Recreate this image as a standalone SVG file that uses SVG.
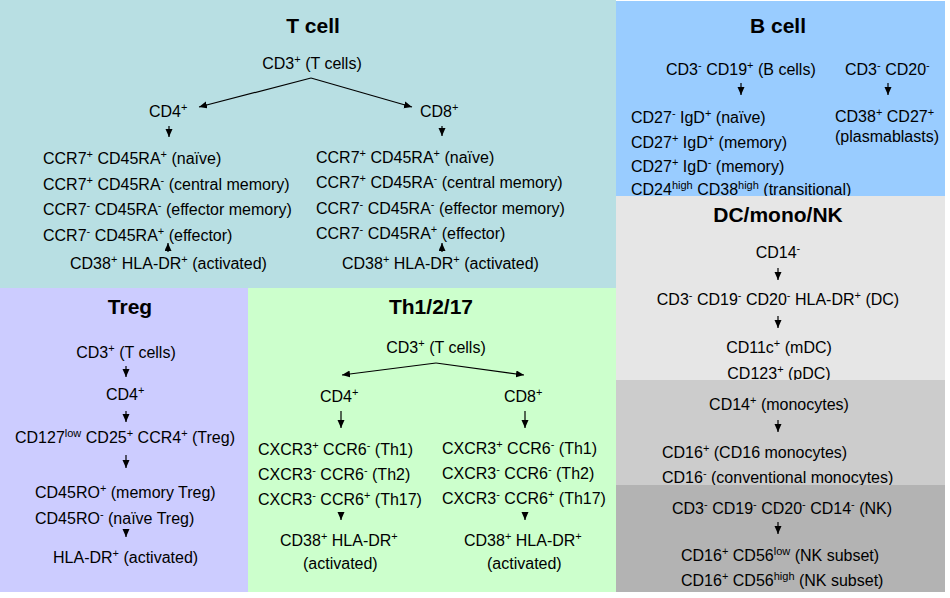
<svg xmlns="http://www.w3.org/2000/svg" width="950" height="598" viewBox="0 0 950 598">
<style>
text{font-family:"Liberation Sans",Arial,sans-serif;font-size:16px;fill:#000}
.h{font-weight:bold;font-size:21px}
.s{font-size:11px}
.c{text-anchor:middle}
.ln{stroke:#000;stroke-width:1.2;fill:none;marker-end:url(#ah)}
</style>
<defs>
<marker id="ah" markerUnits="userSpaceOnUse" markerWidth="9" markerHeight="8" refX="8" refY="3.5" orient="auto">
<path d="M0,0 L8,3.5 L0,7 z" fill="#000"/>
</marker>
</defs>
<rect width="950" height="598" fill="#fff"/>
<g id="tcell">
<rect x="0" y="0" width="616" height="288" fill="#b8dfe3"/>
<text class="h c" x="313" y="33">T cell</text>
<text class="c" x="312" y="69">CD3<tspan class="s" dy="-6">+</tspan><tspan dy="6"> (T cells)</tspan></text>
<text x="149" y="117">CD4<tspan class="s" dy="-6">+</tspan></text>
<text x="420" y="117">CD8<tspan class="s" dy="-6">+</tspan></text>
<text x="43" y="164">CCR7<tspan class="s" dy="-6">+</tspan><tspan dy="6"> CD45RA</tspan><tspan class="s" dy="-6">+</tspan><tspan dy="6"> (naïve)</tspan></text>
<text x="43" y="190">CCR7<tspan class="s" dy="-6">+</tspan><tspan dy="6"> CD45RA</tspan><tspan class="s" dy="-6">-</tspan><tspan dy="6"> (central memory)</tspan></text>
<text x="43" y="215">CCR7<tspan class="s" dy="-6">-</tspan><tspan dy="6"> CD45RA</tspan><tspan class="s" dy="-6">-</tspan><tspan dy="6"> (effector memory)</tspan></text>
<text x="43" y="241">CCR7<tspan class="s" dy="-6">-</tspan><tspan dy="6"> CD45RA</tspan><tspan class="s" dy="-6">+</tspan><tspan dy="6"> (effector)</tspan></text>
<text x="70" y="269">CD38<tspan class="s" dy="-6">+</tspan><tspan dy="6"> HLA-DR</tspan><tspan class="s" dy="-6">+</tspan><tspan dy="6"> (activated)</tspan></text>
<text x="316" y="163">CCR7<tspan class="s" dy="-6">+</tspan><tspan dy="6"> CD45RA</tspan><tspan class="s" dy="-6">+</tspan><tspan dy="6"> (naïve)</tspan></text>
<text x="316" y="188">CCR7<tspan class="s" dy="-6">+</tspan><tspan dy="6"> CD45RA</tspan><tspan class="s" dy="-6">-</tspan><tspan dy="6"> (central memory)</tspan></text>
<text x="316" y="214">CCR7<tspan class="s" dy="-6">-</tspan><tspan dy="6"> CD45RA</tspan><tspan class="s" dy="-6">-</tspan><tspan dy="6"> (effector memory)</tspan></text>
<text x="316" y="239">CCR7<tspan class="s" dy="-6">-</tspan><tspan dy="6"> CD45RA</tspan><tspan class="s" dy="-6">+</tspan><tspan dy="6"> (effector)</tspan></text>
<text x="342" y="269">CD38<tspan class="s" dy="-6">+</tspan><tspan dy="6"> HLA-DR</tspan><tspan class="s" dy="-6">+</tspan><tspan dy="6"> (activated)</tspan></text>
</g>
<g id="bcell">
<rect x="616" y="1" width="329" height="195" fill="#99ccff"/>
<text class="h c" x="778" y="33">B cell</text>
<text x="666" y="75">CD3<tspan class="s" dy="-6">-</tspan><tspan dy="6"> CD19</tspan><tspan class="s" dy="-6">+</tspan><tspan dy="6"> (B cells)</tspan></text>
<text x="845" y="75">CD3<tspan class="s" dy="-6">-</tspan><tspan dy="6"> CD20</tspan><tspan class="s" dy="-6">-</tspan></text>
<text x="631" y="123">CD27<tspan class="s" dy="-6">-</tspan><tspan dy="6"> IgD</tspan><tspan class="s" dy="-6">+</tspan><tspan dy="6"> (naïve)</tspan></text>
<text x="631" y="148">CD27<tspan class="s" dy="-6">+</tspan><tspan dy="6"> IgD</tspan><tspan class="s" dy="-6">+</tspan><tspan dy="6"> (memory)</tspan></text>
<text x="631" y="172">CD27<tspan class="s" dy="-6">+</tspan><tspan dy="6"> IgD</tspan><tspan class="s" dy="-6">-</tspan><tspan dy="6"> (memory)</tspan></text>
<text x="631" y="195">CD24<tspan class="s" dy="-6">high</tspan><tspan dy="6"> CD38</tspan><tspan class="s" dy="-6">high</tspan><tspan dy="6"> (transitional)</tspan></text>
<text x="835" y="122">CD38<tspan class="s" dy="-6">+</tspan><tspan dy="6"> CD27</tspan><tspan class="s" dy="-6">+</tspan></text>
<text x="835" y="142">(plasmablasts)</text>
</g>
<g id="dc">
<rect x="616" y="196" width="329" height="184" fill="#e6e6e6"/>
<text class="h c" x="778" y="222">DC/mono/NK</text>
<text class="c" x="778" y="258">CD14<tspan class="s" dy="-6">-</tspan></text>
<text class="c" x="778" y="305">CD3<tspan class="s" dy="-6">-</tspan><tspan dy="6"> CD19</tspan><tspan class="s" dy="-6">-</tspan><tspan dy="6"> CD20</tspan><tspan class="s" dy="-6">-</tspan><tspan dy="6"> HLA-DR</tspan><tspan class="s" dy="-6">+</tspan><tspan dy="6"> (DC)</tspan></text>
<text class="c" x="779" y="353">CD11c<tspan class="s" dy="-6">+</tspan><tspan dy="6"> (mDC)</tspan></text>
<text class="c" x="779" y="379">CD123<tspan class="s" dy="-6">+</tspan><tspan dy="6"> (pDC)</tspan></text>
</g>
<g id="mono">
<rect x="616" y="380" width="329" height="105" fill="#cccccc"/>
<text class="c" x="779" y="410">CD14<tspan class="s" dy="-6">+</tspan><tspan dy="6"> (monocytes)</tspan></text>
<text x="662" y="458">CD16<tspan class="s" dy="-6">+</tspan><tspan dy="6"> (CD16 monocytes)</tspan></text>
<text x="662" y="483">CD16<tspan class="s" dy="-6">-</tspan><tspan dy="6"> (conventional monocytes)</tspan></text>
</g>
<g id="nk">
<rect x="616" y="485" width="329" height="107" fill="#b3b3b3"/>
<text x="672" y="514">CD3<tspan class="s" dy="-6">-</tspan><tspan dy="6"> CD19</tspan><tspan class="s" dy="-6">-</tspan><tspan dy="6"> CD20</tspan><tspan class="s" dy="-6">-</tspan><tspan dy="6"> CD14</tspan><tspan class="s" dy="-6">-</tspan><tspan dy="6"> (NK)</tspan></text>
<text x="681" y="561">CD16<tspan class="s" dy="-6">+</tspan><tspan dy="6"> CD56</tspan><tspan class="s" dy="-6">low</tspan><tspan dy="6"> (NK subset)</tspan></text>
<text x="681" y="586">CD16<tspan class="s" dy="-6">+</tspan><tspan dy="6"> CD56</tspan><tspan class="s" dy="-6">high</tspan><tspan dy="6"> (NK subset)</tspan></text>
</g>
<g id="treg">
<rect x="0" y="288" width="248" height="304" fill="#ccccff"/>
<text class="h c" x="130" y="314">Treg</text>
<text class="c" x="126" y="358">CD3<tspan class="s" dy="-6">+</tspan><tspan dy="6"> (T cells)</tspan></text>
<text x="106" y="400">CD4<tspan class="s" dy="-6">+</tspan></text>
<text x="15" y="443">CD127<tspan class="s" dy="-6">low</tspan><tspan dy="6"> CD25</tspan><tspan class="s" dy="-6">+</tspan><tspan dy="6"> CCR4</tspan><tspan class="s" dy="-6">+</tspan><tspan dy="6"> (Treg)</tspan></text>
<text x="35" y="498">CD45RO<tspan class="s" dy="-6">+</tspan><tspan dy="6"> (memory Treg)</tspan></text>
<text x="35" y="524">CD45RO<tspan class="s" dy="-6">-</tspan><tspan dy="6"> (naïve Treg)</tspan></text>
<text x="53" y="563">HLA-DR<tspan class="s" dy="-6">+</tspan><tspan dy="6"> (activated)</tspan></text>
</g>
<g id="th">
<rect x="248" y="288" width="368" height="304" fill="#ccffcc"/>
<text class="h c" x="431" y="314">Th1/2/17</text>
<text class="c" x="436" y="353">CD3<tspan class="s" dy="-6">+</tspan><tspan dy="6"> (T cells)</tspan></text>
<text x="320" y="402">CD4<tspan class="s" dy="-6">+</tspan></text>
<text x="504" y="402">CD8<tspan class="s" dy="-6">+</tspan></text>
<text x="258" y="455">CXCR3<tspan class="s" dy="-6">+</tspan><tspan dy="6"> CCR6</tspan><tspan class="s" dy="-6">-</tspan><tspan dy="6"> (Th1)</tspan></text>
<text x="258" y="480">CXCR3<tspan class="s" dy="-6">-</tspan><tspan dy="6"> CCR6</tspan><tspan class="s" dy="-6">-</tspan><tspan dy="6"> (Th2)</tspan></text>
<text x="258" y="505">CXCR3<tspan class="s" dy="-6">-</tspan><tspan dy="6"> CCR6</tspan><tspan class="s" dy="-6">+</tspan><tspan dy="6"> (Th17)</tspan></text>
<text x="442" y="454">CXCR3<tspan class="s" dy="-6">+</tspan><tspan dy="6"> CCR6</tspan><tspan class="s" dy="-6">-</tspan><tspan dy="6"> (Th1)</tspan></text>
<text x="442" y="479">CXCR3<tspan class="s" dy="-6">-</tspan><tspan dy="6"> CCR6</tspan><tspan class="s" dy="-6">-</tspan><tspan dy="6"> (Th2)</tspan></text>
<text x="442" y="504">CXCR3<tspan class="s" dy="-6">-</tspan><tspan dy="6"> CCR6</tspan><tspan class="s" dy="-6">+</tspan><tspan dy="6"> (Th17)</tspan></text>
<text x="280" y="546">CD38<tspan class="s" dy="-6">+</tspan><tspan dy="6"> HLA-DR</tspan><tspan class="s" dy="-6">+</tspan></text>
<text x="303" y="569">(activated)</text>
<text x="464" y="546">CD38<tspan class="s" dy="-6">+</tspan><tspan dy="6"> HLA-DR</tspan><tspan class="s" dy="-6">+</tspan></text>
<text x="487" y="569">(activated)</text>
</g>
<g id="connectors">
<path class="ln" d="M311,78 L199,107"/>
<path class="ln" d="M311,78 L412,107"/>
<path class="ln" d="M169,126 L169,137"/>
<path class="ln" d="M442,126 L442,136"/>
<path class="ln" d="M168,252 L168,243"/>
<path class="ln" d="M442,252 L442,243"/>
<path class="ln" d="M741,83 L741,95"/>
<path class="ln" d="M888,83 L888,95"/>
<path class="ln" d="M778,268 L778,280"/>
<path class="ln" d="M778,316 L778,328"/>
<path class="ln" d="M778,420 L778,432"/>
<path class="ln" d="M778,522 L778,534"/>
<path class="ln" d="M126,366 L126,377"/>
<path class="ln" d="M126,411 L126,422"/>
<path class="ln" d="M126,455 L126,468"/>
<path class="ln" d="M126,530 L126,537"/>
<path class="ln" d="M436,363 L342,375"/>
<path class="ln" d="M436,363 L524,375"/>
<path class="ln" d="M341,411 L341,428"/>
<path class="ln" d="M525,411 L525,428"/>
<path class="ln" d="M341,513 L341,520"/>
<path class="ln" d="M525,513 L525,520"/>
</g>
</svg>
